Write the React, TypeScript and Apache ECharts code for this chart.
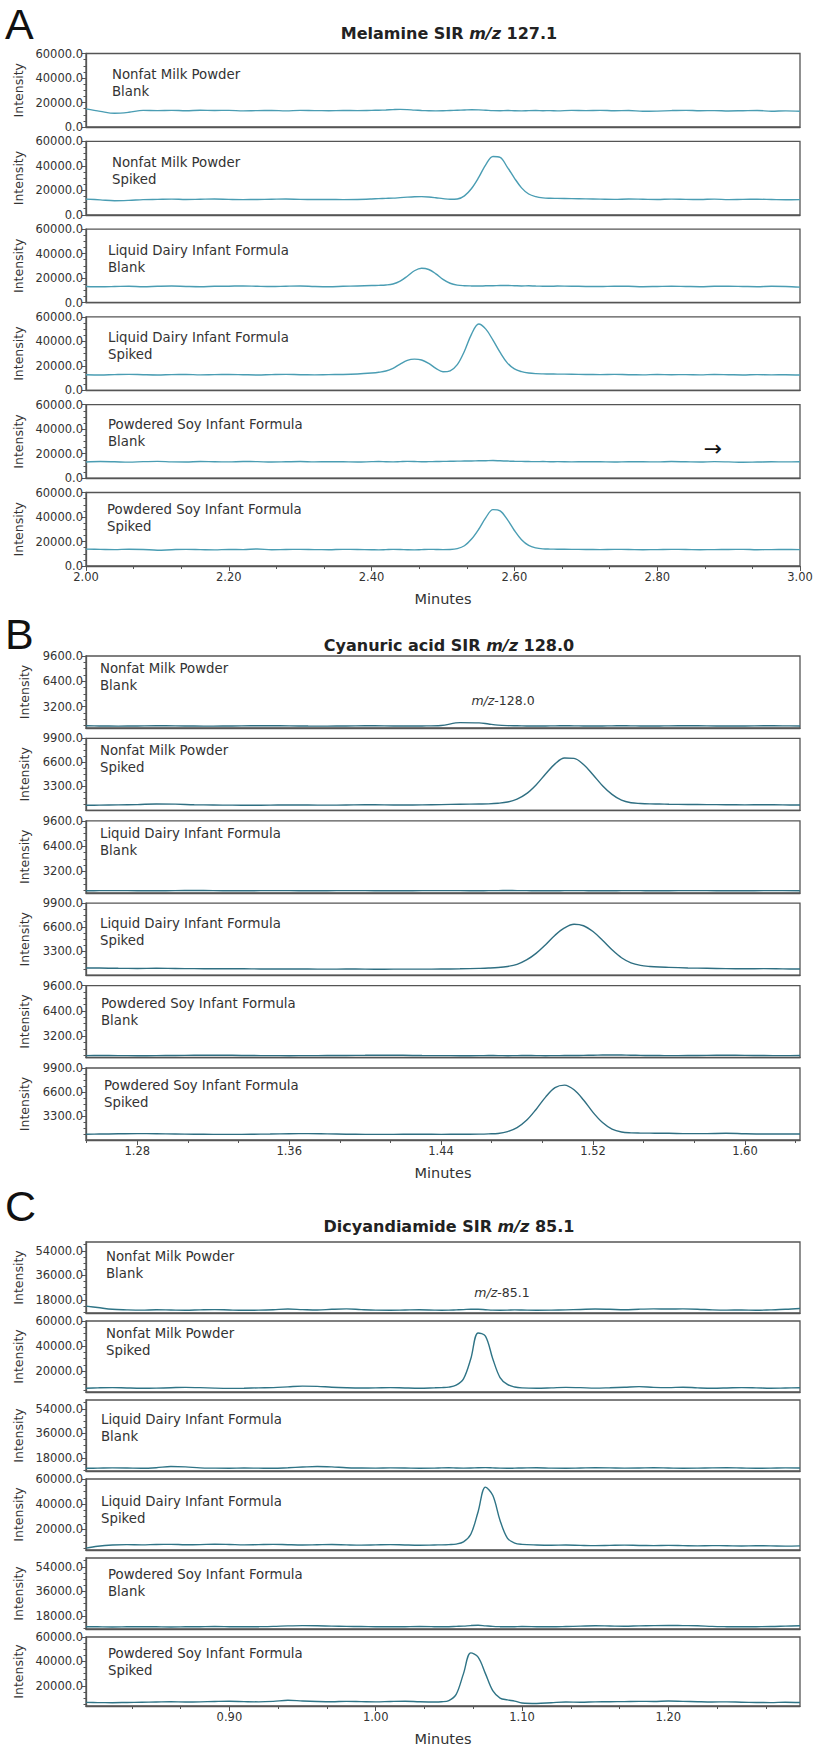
import React, { useEffect, useRef } from "react";
import * as echarts from "echarts";

// ---------------- DATA ----------------
// Section A: Melamine SIR m/z 127.1 (time in minutes)
const timeA = [2.00,2.02,2.04,2.06,2.08,2.10,2.12,2.14,2.16,2.18,2.20,2.22,2.24,2.26,2.28,2.30,2.32,2.34,2.36,2.38,2.40,
  2.41,2.42,2.43,2.44,2.45,2.46,2.47,2.48,2.49,2.50,2.51,2.52,2.53,2.54,2.55,2.56,2.57,2.58,2.59,2.60,2.61,2.62,2.63,2.64,2.65,2.66,
  2.68,2.70,2.72,2.74,2.76,2.78,2.80,2.82,2.84,2.86,2.88,2.90,2.92,2.94,2.96,2.98,3.00];
const melNonfatBlank = [14800,12800,11200,12000,13600,13400,13600,13300,13700,13500,13600,13200,13400,13500,13200,13600,13400,13300,13500,13400,13600,
  13700,13900,14200,14400,14200,13800,13500,13300,13200,13300,13500,13700,13900,14100,14000,13700,13400,13300,13500,13300,13200,13400,13500,13300,13400,13200,
  13600,13400,13600,13300,13500,12800,13000,13400,13600,13300,13400,13100,13300,13500,12900,13200,12800];
const melNonfatSpiked = [12800,12200,11500,11800,12400,12600,12800,12500,12700,12900,12600,12400,12500,12700,12900,12600,12500,12600,12400,12500,12900,
  13200,13400,13600,14000,14400,14700,14800,14500,13900,13200,12700,12900,15500,21500,30500,41000,47600,46800,39000,30000,22000,17000,14800,13800,13500,13400,
  13200,13000,12800,12600,12900,12700,12500,12800,12600,12500,12800,12400,12600,12700,12500,12300,12400];
const melLiquidBlank = [13200,12900,13100,13400,13000,13300,13500,13200,13000,13300,13400,13600,13300,13100,13400,13600,13200,13000,13300,13600,13900,
  14100,14400,15200,17500,21500,26000,28000,27000,23500,19000,15800,14300,13800,13600,13500,13700,13800,13900,14000,13800,13600,13700,13500,13400,13300,13500,
  13400,13200,13100,13400,13300,13000,13200,13400,13200,13000,13300,13400,13200,13000,13300,13100,12600];
const melLiquidSpiked = [12800,12600,12900,13100,12800,12600,12900,13000,12700,12900,13000,12800,12600,12900,13100,12800,12700,12900,13000,13400,14200,
  14800,15800,18000,21500,24500,25500,24800,22000,18000,15200,16000,21000,32000,46000,54200,50000,41000,31000,22500,17500,15300,14200,13700,13500,13400,13300,
  13200,13000,12900,13100,12800,12700,13000,12800,12900,12700,13000,12800,12600,12900,12700,12800,12600];
const melSoyBlank = [13200,13600,13400,13100,13500,13700,13300,13200,13600,13400,13300,13600,13500,13200,13400,13600,13300,13500,13400,13200,13500,
  13600,13400,13300,13500,13700,13600,13400,13500,13600,13700,13800,13900,14000,14100,14200,14300,14400,14200,14000,13800,13700,13600,13500,13600,13400,13500,
  13300,13500,13400,13200,13500,13400,13300,13600,13400,13200,13500,13300,13000,13200,13400,13300,13400];
const melSoySpiked = [13800,13600,13400,13700,13500,12900,13300,13600,13400,13200,13500,13400,13900,13300,13500,13600,13400,13300,13600,13500,13300,
  13200,13400,13600,13500,13300,13200,13400,13600,13500,13400,13500,14200,16500,22000,30000,39500,46000,45000,38000,29000,21500,16800,14800,14000,13800,13700,
  13600,13500,13400,13600,13500,13300,13400,13600,13500,13300,13400,13500,13600,13300,13400,13500,13400];

// Section B: Cyanuric acid SIR m/z 128.0
const timeB = [1.253,1.26,1.27,1.28,1.29,1.30,1.31,1.32,1.33,1.34,1.35,1.36,1.37,1.38,1.39,1.40,1.41,1.42,1.43,1.44,1.45,1.46,
  1.465,1.47,1.475,1.48,1.485,1.49,1.495,1.50,1.505,1.51,1.515,1.52,1.525,1.53,1.535,1.54,1.545,1.55,1.555,
  1.56,1.57,1.58,1.59,1.60,1.61,1.62,1.629];
const cyaNonfatBlank = [780,760,740,760,790,770,750,740,760,780,790,770,750,740,760,780,770,750,760,820,1180,1150,
  1000,860,800,780,760,750,760,770,780,770,760,750,760,770,780,770,760,750,760,
  770,780,770,750,760,780,770,760];
const cyaNonfatSpiked = [700,720,760,800,880,860,780,740,720,700,720,760,740,720,740,780,760,740,760,800,850,880,
  900,980,1150,1550,2300,3500,5000,6400,7200,7150,6300,4900,3400,2200,1400,1050,950,900,880,
  850,820,800,780,760,780,760,740];
const cyaLiquidBlank = [760,770,780,760,750,770,790,770,750,760,780,770,750,760,780,770,760,750,770,780,770,760,
  770,780,790,780,770,760,750,760,770,780,770,760,750,760,770,780,770,760,750,
  760,780,770,750,760,770,780,760];
const cyaLiquidSpiked = [1000,980,950,930,950,920,900,880,900,870,850,870,850,830,850,840,820,840,830,850,880,940,
  980,1050,1200,1500,2100,3000,4200,5500,6500,7000,6800,6000,4800,3500,2400,1700,1350,1200,1120,
  1080,1000,950,900,880,900,870,850];
const cyaSoyBlank = [750,760,750,740,750,770,790,810,790,760,750,740,750,760,770,790,810,790,760,750,740,750,
  760,750,740,750,760,750,740,750,760,770,780,800,820,830,820,800,780,770,760,
  750,760,780,800,780,760,750,760];
const cyaSoySpiked = [800,820,850,880,860,830,800,780,770,790,820,860,880,840,800,780,770,790,800,780,790,810,
  840,900,1150,1700,2700,4200,5900,7200,7550,6900,5500,3800,2400,1500,1100,980,950,940,930,
  920,870,880,920,860,830,840,820];

// Section C: Dicyandiamide SIR m/z 85.1
const timeC = [0.802,0.81,0.82,0.83,0.84,0.85,0.86,0.87,0.88,0.89,0.90,0.91,0.92,0.93,0.94,0.95,0.96,0.97,0.98,0.99,1.00,1.01,1.02,1.03,1.04,
  1.045,1.05,1.055,1.06,1.065,1.07,1.075,1.08,1.085,1.09,1.095,1.10,
  1.11,1.12,1.13,1.14,1.15,1.16,1.17,1.18,1.19,1.20,1.21,1.22,1.23,1.24,1.25,1.26,1.27,1.28,1.29];
const dcdNonfatBlank = [13500,12500,11200,10800,10600,10900,10700,10500,10800,11000,10700,10500,10600,10900,11400,11000,10700,11200,11500,11000,10600,10500,10700,10900,10600,
  10500,10600,10800,11000,11300,11200,10900,10600,10500,10600,10800,10700,
  10500,10600,10800,11100,11400,11200,10900,11300,11500,11400,11500,11300,10800,10600,10700,10500,10800,11200,11800];
const dcdNonfatSpiked = [6500,6800,7000,6700,6500,6600,6900,7200,7000,6600,6400,6500,6800,7000,7600,8200,8000,7300,6900,6700,6800,7000,6700,6500,6800,
  7000,7400,9000,14000,30000,50500,48000,30000,15000,9500,7500,6800,
  6500,6800,7200,7000,6600,6900,7300,7800,7200,7000,7300,6800,6500,6700,7000,6800,6500,6700,6900];
const dcdLiquidBlank = [10500,10600,10800,10700,10500,10900,11800,11500,10800,10600,10500,10700,10600,10500,10900,11400,11800,11500,10900,10700,10600,10800,10700,10500,10600,
  10800,10900,10700,10600,10700,10900,11000,10800,10600,10500,10600,10700,
  10900,10600,10500,10700,10900,10800,10600,10700,10900,10700,10500,10600,10800,10900,10700,10500,10600,10800,10700];
const dcdLiquidSpiked = [5000,6500,7500,7800,7600,7900,8000,7700,7800,8100,7900,7600,7800,8000,7700,7500,7700,7900,7600,7400,7600,7800,7500,7300,7500,
  7600,7800,8200,10000,16000,34000,53500,47000,27000,13000,9000,8000,
  7500,7300,7500,7200,7000,7200,7400,7100,7000,7200,7000,6800,7000,6900,6700,6900,6800,6600,6800];
const dcdSoyBlank = [10200,10100,10000,10100,10200,10100,10000,10100,10200,10300,10200,10100,10200,10400,10800,11000,10900,10600,10400,10300,10200,10100,10200,10300,10200,
  10100,10200,10400,10600,11000,11200,10800,10400,10200,10100,10200,10300,
  10200,10100,10300,10600,10900,10700,10500,10800,11000,11100,11000,10900,10400,10200,10100,10200,10300,10600,10900];
const dcdSoySpiked = [6500,6300,6200,6400,6600,6800,7000,6800,6900,7200,7400,7100,6900,7300,8200,7600,7200,7000,7300,7100,6900,7200,7400,7000,6800,
  7000,8000,13000,30000,47000,43500,30000,16000,10000,8500,7500,6000,
  5600,6200,6800,6600,6900,7000,7100,7300,7200,7600,7300,7000,6800,6900,6600,6400,6300,6600,6400];

// Tick labels
const ticksA = [2.0, 2.2, 2.4, 2.6, 2.8, 3.0];
const ticksB = [1.28, 1.36, 1.44, 1.52, 1.60];
const ticksC = [0.9, 1.0, 1.1, 1.2];
const yTicksA = [0, 20000, 40000, 60000];
const yTicksBBlank = [3200, 6400, 9600];
const yTicksBSpiked = [3300, 6600, 9900];
const yTicksCBlank = [18000, 36000, 54000];
const yTicksCSpiked = [20000, 40000, 60000];

const sampleNames = [
  ["Nonfat Milk Powder", "Blank"],
  ["Nonfat Milk Powder", "Spiked"],
  ["Liquid Dairy Infant Formula", "Blank"],
  ["Liquid Dairy Infant Formula", "Spiked"],
  ["Powdered Soy Infant Formula", "Blank"],
  ["Powdered Soy Infant Formula", "Spiked"],
];

// ---------------- LAYOUT ----------------
const FONT = '"DejaVu Sans", Verdana, sans-serif';
const PLOT_LEFT = 86;
const PLOT_RIGHT = 800;
const AXIS_COLOR = "#555";
const TEXT_COLOR = "#333";

type YCfg = { min: number; max: number; major: number[]; sub: number };
type Section = {
  letter: string; letterY: number;
  title: string; mz: string; titleY: number;
  time: number[]; series: number[][];
  xMin: number; xMax: number; xMajor: number[];
  tops: number[]; height: number;
  yBlank: YCfg; ySpiked: YCfg;
  color: string;
  labelX: number[]; labelDy: number[];
};

const sections: Section[] = [
  {
    letter: "A", letterY: 24, title: "Melamine SIR ", mz: "127.1", titleY: 33,
    time: timeA,
    series: [melNonfatBlank, melNonfatSpiked, melLiquidBlank, melLiquidSpiked, melSoyBlank, melSoySpiked],
    xMin: 2.0, xMax: 3.0, xMajor: ticksA,
    tops: [53.5, 141.3, 229.1, 316.9, 404.7, 492.5], height: 73.5,
    yBlank: { min: 0, max: 60000, major: yTicksA, sub: 4 },
    ySpiked: { min: 0, max: 60000, major: yTicksA, sub: 4 },
    color: "#4a9db3",
    labelX: [112, 112, 108, 108, 108, 107],
    labelDy: [21, 21, 21, 21, 20, 17],
  },
  {
    letter: "B", letterY: 634, title: "Cyanuric acid SIR ", mz: "128.0", titleY: 645,
    time: timeB,
    series: [cyaNonfatBlank, cyaNonfatSpiked, cyaLiquidBlank, cyaLiquidSpiked, cyaSoyBlank, cyaSoySpiked],
    xMin: 1.253, xMax: 1.629, xMajor: ticksB,
    tops: [656, 738.4, 820.8, 903.2, 985.6, 1068], height: 72,
    yBlank: { min: 500, max: 9600, major: yTicksBBlank, sub: 4 },
    ySpiked: { min: 0, max: 9900, major: yTicksBSpiked, sub: 4 },
    color: "#2f6f82",
    labelX: [100, 100, 100, 100, 101, 104],
    labelDy: [12, 12, 13, 20, 18, 17],
  },
  {
    letter: "C", letterY: 1206, title: "Dicyandiamide SIR ", mz: "85.1", titleY: 1226,
    time: timeC,
    series: [dcdNonfatBlank, dcdNonfatSpiked, dcdLiquidBlank, dcdLiquidSpiked, dcdSoyBlank, dcdSoySpiked],
    xMin: 0.802, xMax: 1.29, xMajor: ticksC,
    tops: [1242, 1321, 1400, 1479, 1558, 1637], height: 71,
    yBlank: { min: 8500, max: 60500, major: yTicksCBlank, sub: 4 },
    ySpiked: { min: 3500, max: 60000, major: yTicksCSpiked, sub: 4 },
    color: "#2f7486",
    labelX: [106, 106, 101, 101, 108, 108],
    labelDy: [14, 12, 19, 22, 16, 16],
  },
];

function minorTicks(major: number[], min: number, max: number, sub: number): number[] {
  const step = major[1] - major[0];
  const out: number[] = [];
  const start = major[0] - step * Math.ceil((major[0] - min) / step + 1e-9);
  for (let m = start; m <= max + 1e-9; m += step) {
    for (let k = 1; k < sub; k++) {
      const v = m + (step * k) / sub;
      if (v >= min - 1e-9 && v <= max + 1e-9) out.push(+v.toFixed(6));
    }
  }
  return out;
}

function buildOption() {
  const grids: any[] = [];
  const xAxes: any[] = [];
  const yAxes: any[] = [];
  const series: any[] = [];
  const graphics: any[] = [];

  sections.forEach((sec) => {
    graphics.push({
      type: "text", silent: true,
      style: {
        text: sec.letter, x: 5, y: sec.letterY, fill: "#111",
        font: '43px "Liberation Sans", Arial, sans-serif',
        textAlign: "left", textVerticalAlign: "middle", align: "left", verticalAlign: "middle",
      },
    });
    graphics.push({
      type: "text", silent: true,
      style: {
        text: `{b|${sec.title}}{i|m/z}{b| ${sec.mz}}`,
        x: 449, y: sec.titleY,
        textAlign: "center", textVerticalAlign: "middle", align: "center", verticalAlign: "middle",
        rich: {
          b: { fontFamily: FONT, fontSize: 16, fontWeight: "bold", fill: "#222" },
          i: { fontFamily: FONT, fontSize: 16, fontWeight: "bold", fontStyle: "italic", fill: "#222" },
        },
      },
    });

    sec.series.forEach((vals, k) => {
      const isBlank = k % 2 === 0;
      const isBottom = k === sec.series.length - 1;
      const yc = isBlank ? sec.yBlank : sec.ySpiked;
      const top = sec.tops[k];
      const gi = grids.length;
      grids.push({
        left: PLOT_LEFT, width: PLOT_RIGHT - PLOT_LEFT, top, height: sec.height,
        show: true, borderColor: AXIS_COLOR, borderWidth: 1.3, backgroundColor: "transparent",
      });

      const xi = xAxes.length;
      xAxes.push({
        gridIndex: gi, type: "value", min: sec.xMin, max: sec.xMax, position: "bottom",
        axisLine: { show: true, onZero: false, lineStyle: { color: AXIS_COLOR, width: 1.3 } },
        axisTick: isBottom
          ? { show: true, customValues: sec.xMajor, length: 5, lineStyle: { color: AXIS_COLOR } }
          : { show: false },
        axisLabel: isBottom
          ? {
              show: true, customValues: sec.xMajor, margin: 5,
              formatter: (v: number) => v.toFixed(2),
              fontFamily: FONT, fontSize: 11.5, color: TEXT_COLOR,
            }
          : { show: false },
        splitLine: { show: false },
        name: isBottom ? "Minutes" : "",
        nameLocation: "middle", nameGap: 25,
        nameTextStyle: { fontFamily: FONT, fontSize: 14.5, color: TEXT_COLOR },
      });
      if (isBottom) {
        xAxes.push({
          gridIndex: gi, type: "value", min: sec.xMin, max: sec.xMax, position: "bottom",
          axisLine: { show: false, onZero: false },
          axisTick: {
            show: true, length: 3, lineStyle: { color: AXIS_COLOR },
            customValues: minorTicks(sec.xMajor, sec.xMin, sec.xMax, 3),
          },
          axisLabel: { show: false }, splitLine: { show: false },
        });
      }

      const yi = yAxes.length;
      yAxes.push({
        gridIndex: gi, type: "value", min: yc.min, max: yc.max, position: "left",
        axisLine: { show: true, onZero: false, lineStyle: { color: AXIS_COLOR, width: 1.3 } },
        axisTick: { show: true, customValues: yc.major, length: 4, lineStyle: { color: AXIS_COLOR } },
        axisLabel: {
          show: true, customValues: yc.major, margin: 3,
          formatter: (v: number) => v.toFixed(1),
          fontFamily: FONT, fontSize: 11.5, color: TEXT_COLOR,
        },
        splitLine: { show: false },
        name: "Intensity", nameLocation: "middle", nameGap: 55,
        nameTextStyle: { fontFamily: FONT, fontSize: 12.5, color: TEXT_COLOR },
      });
      yAxes.push({
        gridIndex: gi, type: "value", min: yc.min, max: yc.max, position: "left",
        axisLine: { show: false, onZero: false },
        axisTick: {
          show: true, length: 2.5, lineStyle: { color: AXIS_COLOR },
          customValues: minorTicks(yc.major, yc.min, yc.max, yc.sub),
        },
        axisLabel: { show: false }, splitLine: { show: false },
      });

      series.push({
        type: "line", xAxisIndex: xi, yAxisIndex: yi,
        data: sec.time.map((t, i) => [t, vals[i]]),
        showSymbol: false, symbol: "none", smooth: 0.35, silent: true,
        lineStyle: { color: sec.color, width: 1.4 },
        clip: true,
      });

      graphics.push({
        type: "text", silent: true,
        style: {
          text: sampleNames[k].join("\n"),
          x: sec.labelX[k], y: top + sec.labelDy[k] - 8.5,
          font: `13.3px ${FONT}`, lineHeight: 17, fill: TEXT_COLOR,
          textAlign: "left", textVerticalAlign: "top", align: "left", verticalAlign: "top",
        },
      });
    });
  });

  graphics.push({
    type: "text", silent: true,
    style: {
      text: "{i|m/z}{n|-128.0}", x: 503, y: 700,
      textAlign: "center", textVerticalAlign: "middle", align: "center", verticalAlign: "middle",
      rich: {
        i: { fontFamily: FONT, fontSize: 12.5, fontStyle: "italic", fill: TEXT_COLOR },
        n: { fontFamily: FONT, fontSize: 12.5, fill: TEXT_COLOR },
      },
    },
  });
  graphics.push({
    type: "text", silent: true,
    style: {
      text: "{i|m/z}{n|-85.1}", x: 502, y: 1292,
      textAlign: "center", textVerticalAlign: "middle", align: "center", verticalAlign: "middle",
      rich: {
        i: { fontFamily: FONT, fontSize: 12.5, fontStyle: "italic", fill: TEXT_COLOR },
        n: { fontFamily: FONT, fontSize: 12.5, fill: TEXT_COLOR },
      },
    },
  });
  graphics.push({
    type: "text", silent: true,
    style: {
      text: "\u2192", x: 713, y: 448, fill: "#111",
      font: `22px ${FONT}`,
      textAlign: "center", textVerticalAlign: "middle", align: "center", verticalAlign: "middle",
    },
  });

  return {
    animation: false,
    backgroundColor: "#ffffff",
    grid: grids,
    xAxis: xAxes,
    yAxis: yAxes,
    series,
    graphic: { elements: graphics },
  };
}

export default function App() {
  const ref = useRef<HTMLDivElement>(null);
  useEffect(() => {
    if (!ref.current) return;
    const chart = echarts.init(ref.current, undefined, { renderer: "svg" });
    chart.setOption(buildOption() as any);
    return () => chart.dispose();
  }, []);
  return (
    <div
      ref={ref}
      style={{ position: "absolute", left: 0, top: 0, width: 816, height: 1747, background: "#fff" }}
    />
  );
}
